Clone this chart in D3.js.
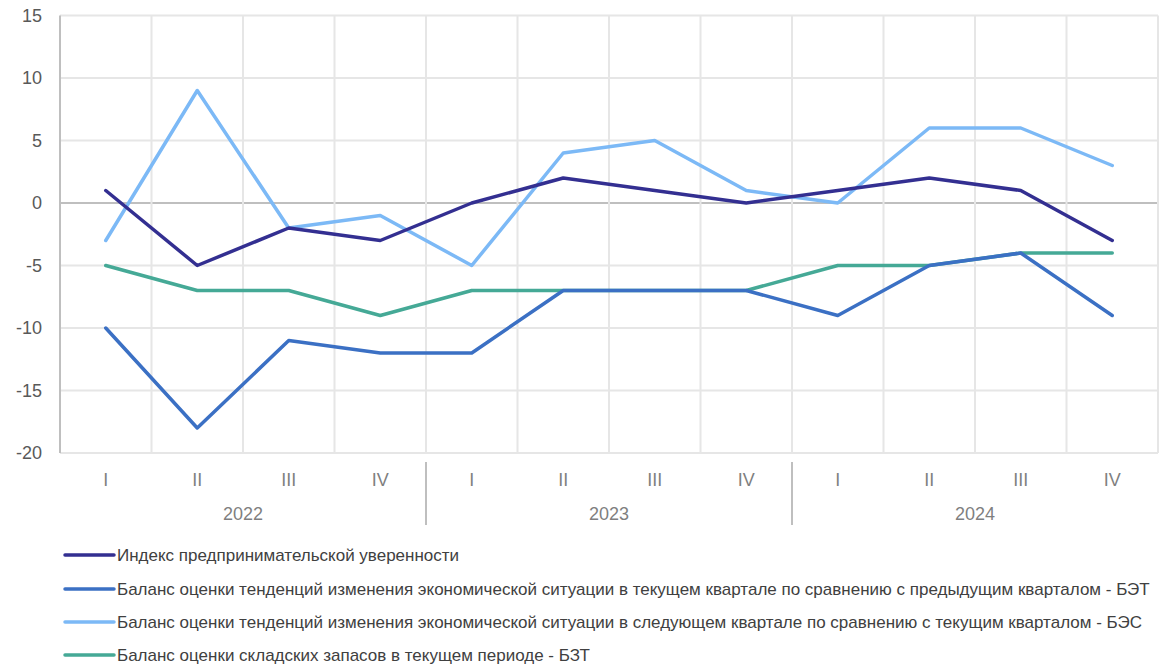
<!DOCTYPE html>
<html>
<head>
<meta charset="utf-8">
<script src="https://cdn.jsdelivr.net/npm/d3@7"></script>
<style>
  body { margin: 0; background: #fff; }
  text { font-family: "Liberation Sans", Arial, sans-serif; }
</style>
</head>
<body>
<div id="chart"></div>
<script>
// quarters and years
const quarters = ["I", "II", "III", "IV", "I", "II", "III", "IV", "I", "II", "III", "IV"];
const years = ["2022", "2023", "2024"];
const yTicks = [-20, -15, -10, -5, 0, 5, 10, 15];

// series
const indexConf = [1, -5, -2, -3, 0, 2, 1, 0, 1, 2, 1, -3];
const bet = [-10, -18, -11, -12, -12, -7, -7, -7, -9, -5, -4, -9];
const bes = [-3, 9, -2, -1, -5, 4, 5, 1, 0, 6, 6, 3];
const bzt = [-5, -7, -7, -9, -7, -7, -7, -7, -5, -5, -4, -4];

const seriesNames = [
  "Индекс предпринимательской уверенности",
  "Баланс оценки тенденций изменения экономической ситуации в текущем квартале по сравнению с предыдущим кварталом - БЭТ",
  "Баланс оценки тенденций изменения экономической ситуации в следующем квартале по сравнению с текущим кварталом - БЭС",
  "Баланс оценки складских запасов в текущем периоде - БЗТ"
];
const seriesColors = ["#332f91", "#3b70c4", "#7cb9f6", "#45a996"];

const width = 1159, height = 666;
const plotLeft = 60, plotRight = 1158, plotTop = 15.5, plotBottom = 453;

const svg = d3.select("#chart").append("svg")
  .attr("width", width)
  .attr("height", height);

const x = d3.scaleBand()
  .domain(d3.range(quarters.length))
  .range([plotLeft, plotRight]);

const y = d3.scaleLinear()
  .domain([-20, 15])
  .range([plotBottom, plotTop]);

// horizontal grid
svg.append("g")
  .selectAll("line")
  .data(yTicks)
  .enter().append("line")
  .attr("x1", plotLeft).attr("x2", plotRight)
  .attr("y1", d => y(d)).attr("y2", d => y(d))
  .attr("stroke", d => d === 0 ? "#bfbfbf" : "#e6e6e6")
  .attr("stroke-width", 2);

// vertical grid at band boundaries
svg.append("g")
  .selectAll("line")
  .data(d3.range(1, quarters.length + 1))
  .enter().append("line")
  .attr("x1", d => plotLeft + d * x.step()).attr("x2", d => plotLeft + d * x.step())
  .attr("y1", plotTop).attr("y2", plotBottom)
  .attr("stroke", "#e6e6e6")
  .attr("stroke-width", 2);

// left axis line
svg.append("line")
  .attr("x1", plotLeft).attr("x2", plotLeft)
  .attr("y1", plotTop).attr("y2", plotBottom)
  .attr("stroke", "#bfbfbf")
  .attr("stroke-width", 2);

// y tick labels
svg.append("g")
  .selectAll("text")
  .data(yTicks)
  .enter().append("text")
  .attr("x", 42)
  .attr("y", d => y(d) + 6)
  .attr("text-anchor", "end")
  .attr("fill", "#595959")
  .style("font-size", "18px")
  .text(d => d);

// x quarter labels
svg.append("g")
  .selectAll("text")
  .data(quarters)
  .enter().append("text")
  .attr("x", (d, i) => x(i) + x.bandwidth() / 2)
  .attr("y", 486)
  .attr("text-anchor", "middle")
  .attr("fill", "#7f7f7f")
  .style("font-size", "18px")
  .text(d => d);

// year labels
svg.append("g")
  .selectAll("text")
  .data(years)
  .enter().append("text")
  .attr("x", (d, i) => x(i * 4) + x.step() * 2)
  .attr("y", 520)
  .attr("text-anchor", "middle")
  .attr("fill", "#7f7f7f")
  .style("font-size", "18px")
  .text(d => d);

// year separators
svg.append("g")
  .selectAll("line")
  .data([4, 8])
  .enter().append("line")
  .attr("x1", d => x(d)).attr("x2", d => x(d))
  .attr("y1", 462).attr("y2", 525)
  .attr("stroke", "#bfbfbf")
  .attr("stroke-width", 2);

// lines
const allSeries = [indexConf, bet, bes, bzt];
const line = d3.line()
  .x((d, i) => x(i) + x.bandwidth() / 2)
  .y(d => y(d));

// draw order: BES and BZT under the others
const drawOrder = [2, 3, 1, 0];
svg.append("g")
  .selectAll("path")
  .data(drawOrder)
  .enter().append("path")
  .attr("d", k => line(allSeries[k]))
  .attr("fill", "none")
  .attr("stroke", k => seriesColors[k])
  .attr("stroke-width", 3.5)
  .attr("stroke-linejoin", "round")
  .attr("stroke-linecap", "round");

// legend
const legendY = [555, 589, 622, 655];
const lg = svg.append("g")
  .selectAll("g")
  .data(seriesNames)
  .enter().append("g")
  .attr("transform", (d, i) => "translate(0," + legendY[i] + ")");

lg.append("line")
  .attr("x1", 65).attr("x2", 114)
  .attr("y1", 0).attr("y2", 0)
  .attr("stroke", (d, i) => seriesColors[i])
  .attr("stroke-width", 3.5)
  .attr("stroke-linecap", "round");

lg.append("text")
  .attr("x", 117)
  .attr("y", 6)
  .attr("fill", "#404040")
  .style("font-size", "17px")
  .text(d => d);
</script>
</body>
</html>
